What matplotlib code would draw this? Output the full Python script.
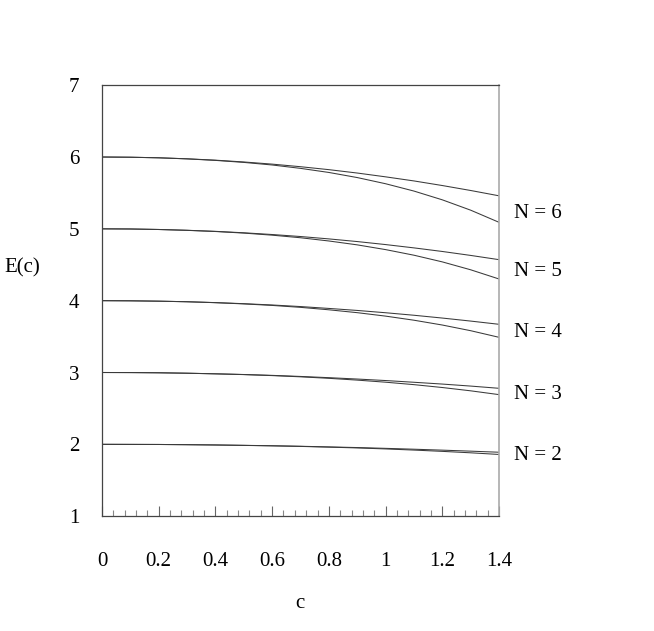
import numpy as np
import matplotlib
matplotlib.use('Agg')
import matplotlib.pyplot as plt
from matplotlib.ticker import MultipleLocator, NullLocator

plt.rcParams['font.family'] = ['Liberation Serif', 'DejaVu Serif']

# c grid and read-off values of E(c) for each N (two curves per N)
c = [0.0, 0.1, 0.2, 0.3, 0.4, 0.5, 0.6, 0.7, 0.8, 0.9, 1.0, 1.1, 1.2, 1.3, 1.4]

upper = {
    2: [2.00, 1.999, 1.998, 1.995, 1.991, 1.986, 1.980, 1.973, 1.964, 1.955, 1.944, 1.932, 1.919, 1.905, 1.890],
    3: [3.00, 2.999, 2.996, 2.990, 2.982, 2.972, 2.960, 2.945, 2.928, 2.909, 2.888, 2.864, 2.839, 2.811, 2.780],
    4: [4.00, 3.998, 3.993, 3.985, 3.973, 3.958, 3.940, 3.918, 3.892, 3.864, 3.832, 3.797, 3.758, 3.716, 3.671],
    5: [5.00, 4.998, 4.991, 4.980, 4.965, 4.945, 4.921, 4.893, 4.860, 4.823, 4.781, 4.735, 4.685, 4.630, 4.571],
    6: [6.00, 5.997, 5.989, 5.975, 5.956, 5.931, 5.901, 5.865, 5.824, 5.777, 5.724, 5.667, 5.603, 5.534, 5.460],
}
lower = {
    2: [2.00, 1.999, 1.998, 1.995, 1.991, 1.985, 1.979, 1.971, 1.961, 1.950, 1.936, 1.920, 1.902, 1.882, 1.859],
    3: [3.00, 2.999, 2.996, 2.990, 2.981, 2.971, 2.957, 2.940, 2.919, 2.894, 2.865, 2.831, 2.791, 2.745, 2.692],
    4: [4.00, 3.998, 3.993, 3.985, 3.972, 3.955, 3.934, 3.907, 3.873, 3.833, 3.785, 3.728, 3.661, 3.582, 3.490],
    5: [5.00, 4.998, 4.991, 4.979, 4.963, 4.941, 4.912, 4.876, 4.831, 4.777, 4.711, 4.633, 4.540, 4.430, 4.302],
    6: [6.00, 5.997, 5.989, 5.974, 5.953, 5.925, 5.889, 5.842, 5.785, 5.714, 5.628, 5.526, 5.404, 5.260, 5.091],
}

labels = ['N = 2', 'N = 3', 'N = 4', 'N = 5', 'N = 6']
label_y = [1.85, 2.70, 3.56, 4.40, 5.22]

xticks = [0, 0.2, 0.4, 0.6, 0.8, 1.0, 1.2, 1.4]
xticklabels = ['0', '0.2', '0.4', '0.6', '0.8', '1', '1.2', '1.4']
yticks = [1, 2, 3, 4, 5, 6, 7]

FS = 15

fig = plt.figure(figsize=(6.54, 6.31), dpi=100)
ax = fig.add_axes([0.156, 0.182, 0.607, 0.683])

for n in upper:
    ax.plot(c, upper[n], color='#3a3a3a', lw=0.75)
    ax.plot(c, lower[n], color='#3a3a3a', lw=0.75)

for lab, y in zip(labels, label_y):
    ax.text(1.453, y, lab, fontsize=FS, va='center', ha='left', clip_on=False)

ax.set_xlim(0, 1.4)
ax.set_ylim(1, 7)

ax.set_xticks(xticks)
ax.set_xticklabels(xticklabels, fontsize=FS)
ax.xaxis.set_minor_locator(MultipleLocator(0.04))
ax.tick_params(axis='x', which='major', direction='in', length=7, width=0.8,
               color='#666666', pad=26)
ax.tick_params(axis='x', which='minor', direction='in', length=4, width=0.8,
               color='#888888')

ax.set_yticks(yticks)
ax.set_yticklabels([str(v) for v in yticks], fontsize=FS)
ax.tick_params(axis='y', which='major', length=0, pad=16.5)
ax.yaxis.set_minor_locator(NullLocator())

for side in ['left', 'bottom', 'top']:
    ax.spines[side].set_color('#444444')
    ax.spines[side].set_linewidth(0.9)
ax.spines['right'].set_color('#aaaaaa')
ax.spines['right'].set_linewidth(1.2)

fig.text(22 / 654, 1 - 268 / 631, 'E(c)', fontsize=FS, ha='center', va='center')
fig.text(300 / 654, 1 - 603 / 631, 'c', fontsize=FS, ha='center', va='center')

fig.savefig('out.png', dpi=100)
